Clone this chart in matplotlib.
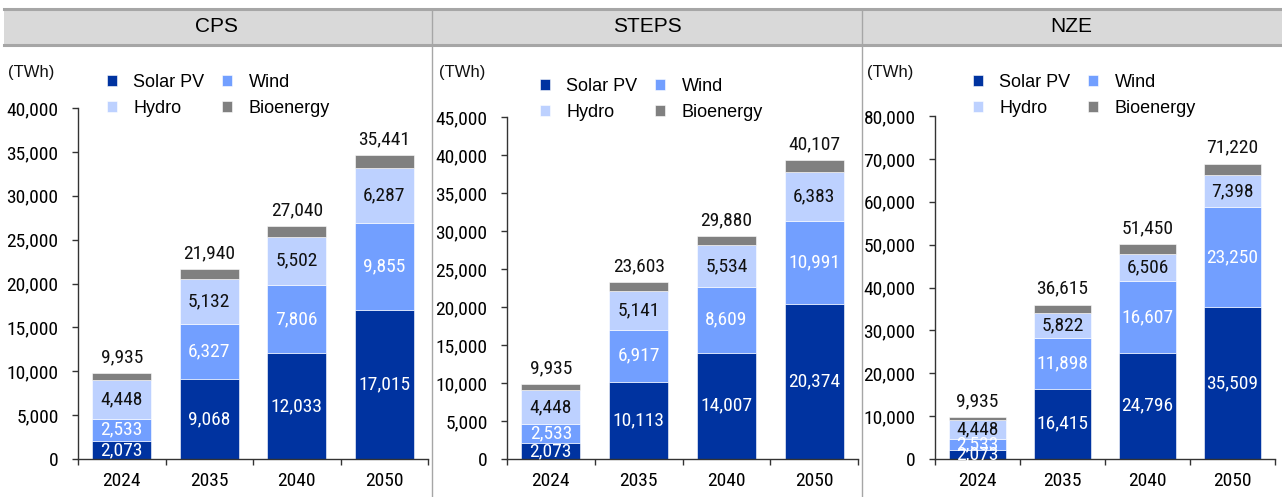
import matplotlib
matplotlib.use('Agg')
import matplotlib.pyplot as plt
from matplotlib import font_manager
from matplotlib.patches import Rectangle
from matplotlib.lines import Line2D
import numpy as np

years = ['2024', '2035', '2040', '2050']
series_names = ['Solar PV', 'Wind', 'Hydro', 'Bioenergy']

cps_solar = [2073, 9068, 12033, 17015]
cps_wind = [2533, 6327, 7806, 9855]
cps_hydro = [4448, 5132, 5502, 6287]
cps_bio = [760, 1100, 1220, 1480]
cps_total = [9935, 21940, 27040, 35441]

steps_solar = [2073, 10113, 14007, 20374]
steps_wind = [2533, 6917, 8609, 10991]
steps_hydro = [4448, 5141, 5534, 6383]
steps_bio = [790, 1100, 1180, 1540]
steps_total = [9935, 23603, 29880, 40107]

nze_solar = [2073, 16415, 24796, 35509]
nze_wind = [2533, 11898, 16607, 23250]
nze_hydro = [4448, 5822, 6506, 7398]
nze_bio = [700, 1870, 2260, 2730]
nze_total = [9935, 36615, 51450, 71220]

colors = ['#0033a0', '#729fff', '#bdd1ff', '#808080']
label_colors = ['white', 'white', '#111111', None]

names = set(f.name for f in font_manager.fontManager.ttflist)
narrow = 'Liberation Sans'
for cand in ['Liberation Sans Narrow', 'DejaVu Sans Condensed', 'Roboto Condensed',
             'Open Sans Condensed']:
    if cand in names:
        narrow = cand
        break
plt.rcParams['font.family'] = ['Liberation Sans', 'DejaVu Sans']

W, H = 1282, 497
fig = plt.figure(figsize=(W / 100, H / 100), dpi=100)


def fx(px):
    return px / W


def fy(py):
    return 1 - py / H


# header band
fig.patches.append(Rectangle((fx(4), fy(45)), fx(1282 - 4), fy(9) - fy(45),
                             transform=fig.transFigure, facecolor='#d9d9d9',
                             edgecolor='none', zorder=0))
for yy in (9, 45):
    fig.lines.append(Line2D([fx(4), 1], [fy(yy), fy(yy)], transform=fig.transFigure,
                            color='#a6a6a6', lw=2.2))
for xx in (432, 862):
    fig.lines.append(Line2D([fx(xx), fx(xx)], [fy(9), 0], transform=fig.transFigure,
                            color='#a6a6a6', lw=1))

panels = [
    ('CPS', cps_solar, cps_wind, cps_hydro, cps_bio, cps_total, 40000, 5000,
     (78, 428, 108), 217, 8),
    ('STEPS', steps_solar, steps_wind, steps_hydro, steps_bio, steps_total, 45000, 5000,
     (507, 858, 117), 647, 439),
    ('NZE', nze_solar, nze_wind, nze_hydro, nze_bio, nze_total, 80000, 10000,
     (935, 1275, 116), 1071, 867),
]
legend_pos = [(107, 74), (540, 78), (973, 74)]

for i, (title, solar, wind, hydro, bio, total, ymax, step, (l, r, t), tx, ux) in enumerate(panels):
    ax = fig.add_axes([fx(l), fy(459), fx(r - l), fy(t) - fy(459)])
    x = np.arange(len(years))
    bottom = np.zeros(len(years))
    handles = []
    for vals, c, lc, name in zip([solar, wind, hydro, bio], colors, label_colors, series_names):
        bars = ax.bar(x, vals, 0.67, bottom=bottom, color=c, edgecolor='white', linewidth=0.4,
                      label=name)
        handles.append(bars)
        if lc is not None:
            for xi, v, b in zip(x, vals, bottom):
                ax.text(xi, b + v / 2, f'{v:,}', ha='center', va='center', color=lc,
                        fontsize=14, family=narrow)
        bottom = bottom + np.array(vals)
    for xi, top, tot in zip(x, bottom, total):
        ax.annotate(f'{tot:,}', (xi, top), xytext=(0, 5), textcoords='offset points',
                    ha='center', va='bottom', fontsize=14, family=narrow, color='#111111')

    ax.set_xlim(-0.5, len(years) - 0.5)
    ax.set_ylim(0, ymax)
    ax.set_yticks(np.arange(0, ymax + 1, step))
    ax.set_yticklabels([f'{v:,}' for v in np.arange(0, ymax + 1, step)], fontsize=14,
                       family=narrow)
    ax.set_xticks(np.arange(len(years) + 1) - 0.5)
    ax.set_xticklabels([])
    ax.set_xticks(x, minor=True)
    ax.set_xticklabels(years, minor=True, fontsize=14, family=narrow)
    ax.tick_params(axis='x', which='major', length=4, width=1, color='#333333')
    ax.tick_params(axis='x', which='minor', length=0, pad=9)
    ax.tick_params(axis='y', length=4, width=1, color='#333333', pad=10)
    for s in ('top', 'right'):
        ax.spines[s].set_visible(False)
    for s in ('left', 'bottom'):
        ax.spines[s].set_color('#333333')
        ax.spines[s].set_linewidth(1)

    order = [handles[0], handles[2], handles[1], handles[3]]
    lx, ly = legend_pos[i]
    ax.legend(order, [h.get_label() for h in order], ncol=2, frameon=False,
              loc='upper left', bbox_to_anchor=(fx(lx), fy(ly)),
              bbox_transform=fig.transFigure, fontsize=13, handlelength=0.55,
              handleheight=0.55, handletextpad=0.9, columnspacing=1.0, labelspacing=0.5,
              borderaxespad=0, borderpad=0)

    fig.text(fx(tx), fy(27), title, ha='center', va='center', fontsize=15, color='black')
    fig.text(fx(ux), fy(72), '(TWh)', ha='left', va='center', fontsize=12, color='#111111')

fig.savefig('out.png', dpi=100)
